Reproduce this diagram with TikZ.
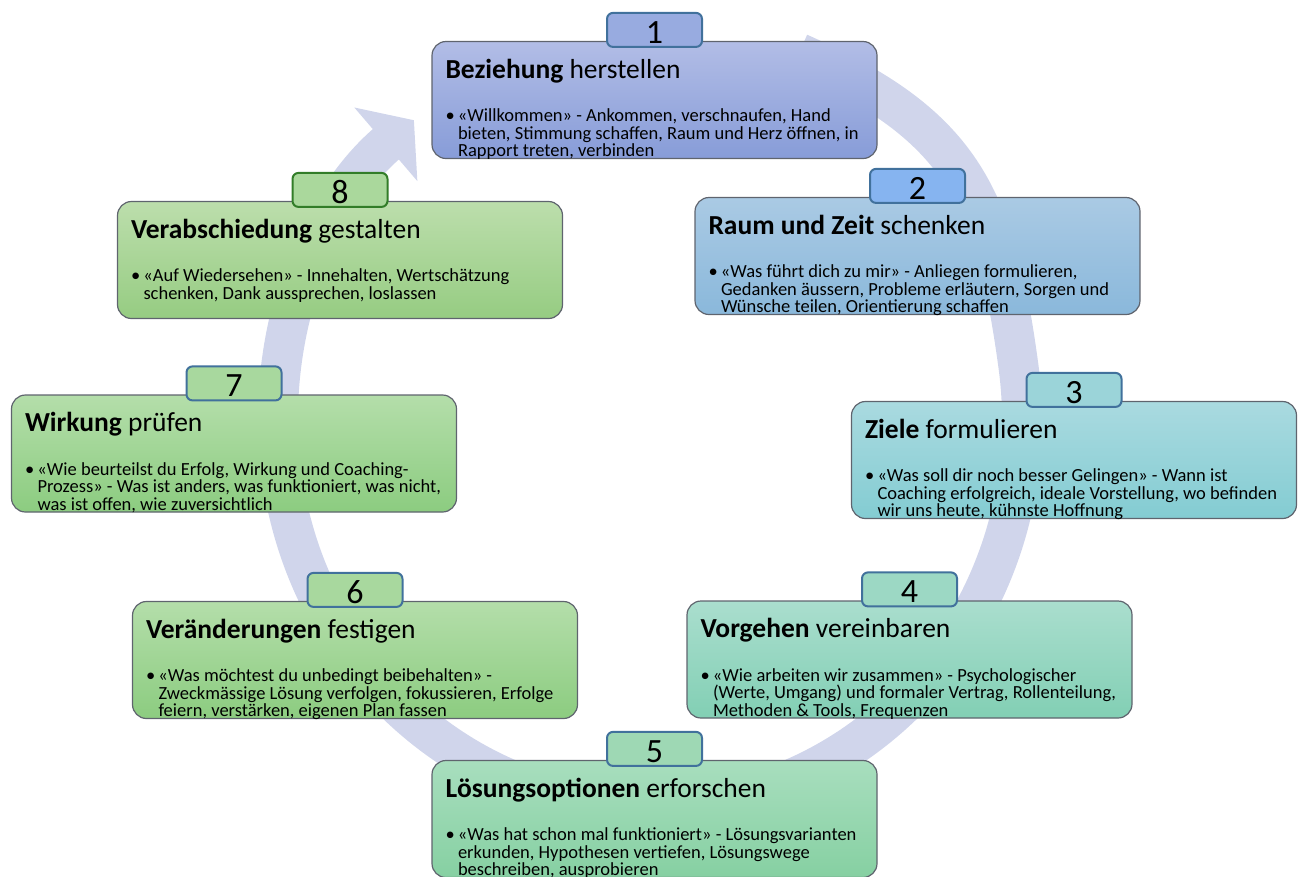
\documentclass[tikz,border=0pt]{standalone}
\usepackage{fontspec}
\setmainfont{Carlito}
\usepackage{xcolor}
\usepackage{tikz}
\usetikzlibrary{arrows.meta,positioning}
\definecolor{ringlav}{RGB}{208,213,235}
\definecolor{tabblue}{RGB}{65,113,156}
\definecolor{tabgreen}{RGB}{50,125,40}
\definecolor{boxline}{RGB}{95,100,110}
\definecolor{bezTop}{RGB}{178,189,230}
\definecolor{bezBot}{RGB}{135,156,216}
\definecolor{bezTab}{RGB}{152,171,224}
\definecolor{raumTop}{RGB}{170,202,228}
\definecolor{raumBot}{RGB}{138,184,219}
\definecolor{raumTab}{RGB}{134,180,240}
\definecolor{zielTop}{RGB}{170,218,224}
\definecolor{zielBot}{RGB}{131,204,210}
\definecolor{zielTab}{RGB}{155,212,217}
\definecolor{vorTop}{RGB}{170,222,206}
\definecolor{vorBot}{RGB}{130,207,180}
\definecolor{vorTab}{RGB}{156,216,196}
\definecolor{loesTop}{RGB}{168,222,190}
\definecolor{loesBot}{RGB}{134,208,162}
\definecolor{loesTab}{RGB}{158,216,180}
\definecolor{verTop}{RGB}{180,222,170}
\definecolor{verBot}{RGB}{140,204,128}
\definecolor{verTab}{RGB}{168,216,158}
\definecolor{abTop}{RGB}{188,222,172}
\definecolor{abBot}{RGB}{150,204,130}
\definecolor{abTab}{RGB}{170,216,156}

% title line and bullet text of one phase
\newcommand{\phasetext}[3]{%
  \parbox[c][117pt][t]{445pt}{\leftskip=13.5pt
    \fontsize{27.5}{43.5}\selectfont\rule{0pt}{36.6pt}\textbf{#1} #2\par
    \fontsize{18.5}{43.5}\selectfont\makebox[12.5pt][l]{\textbullet}%
    \parbox[t]{419pt}{\raggedright\fontsize{18.5}{17.6}\selectfont #3}\par}}

\begin{document}
\begin{tikzpicture}[
    x=1pt, y=1pt,
    phase/.style 2 args={rectangle, rounded corners=14pt, draw=boxline,
                line width=1.2pt, top color=#1, bottom color=#2,
                minimum width=445pt, minimum height=117pt, inner sep=0pt},
    tab/.style 2 args={rectangle, rounded corners=6pt, draw=#2, line width=2pt,
                fill=#1, minimum width=95pt, minimum height=34pt, inner sep=0pt,
                text height=26.5pt, text depth=0pt,
                font=\fontsize{34}{34}\selectfont},
    ring/.style={ringlav, line width=40pt,
                -{Triangle[length=37pt, width=95pt]}},
]
    \useasboundingbox (0,0) rectangle (1300,-876);

    % Cycle arrow behind the phases
    \coordinate (hub) at (650,-420);
    \coordinate (tail) at (799,-53);
    \coordinate (rim) at (1018.4,-366);
    \draw[ring] (tail) .. controls (959,-123.9) and (995,-192.6) .. (rim)
        arc[start angle=8, end angle=-230.6, x radius=372pt, y radius=388pt];

    % Phases
    \node[phase={bezTop}{bezBot}] (b1) at (654.5,-100)
        {\phasetext{Beziehung}{herstellen}{«Willkommen» - Ankommen, verschnaufen, Hand\\bieten, Stimmung schaffen, Raum und Herz öffnen, in\\Rapport treten, verbinden}};
    \node[phase={raumTop}{raumBot}] (b2) at (917.5,-256)
        {\phasetext{Raum und Zeit}{schenken}{«Was führt dich zu mir» - Anliegen formulieren,\\Gedanken äussern, Probleme erläutern, Sorgen und\\Wünsche teilen, Orientierung schaffen}};
    \node[phase={zielTop}{zielBot}] (b3) at (1074,-460)
        {\phasetext{Ziele}{formulieren}{«Was soll dir noch besser Gelingen» - Wann ist\\Coaching erfolgreich, ideale Vorstellung, wo befinden\\wir uns heute, kühnste Hoffnung}};
    \node[phase={vorTop}{vorBot}] (b4) at (909.5,-659.5)
        {\phasetext{Vorgehen}{vereinbaren}{«Wie arbeiten wir zusammen» - Psychologischer\\(Werte, Umgang) und formaler Vertrag, Rollenteilung,\\Methoden \& Tools, Frequenzen}};
    \node[phase={loesTop}{loesBot}] (b5) at (654.5,-819)
        {\phasetext{Lösungsoptionen}{erforschen}{«Was hat schon mal funktioniert» - Lösungsvarianten\\erkunden, Hypothesen vertiefen, Lösungswege\\beschreiben, ausprobieren}};
    \node[phase={verTop}{verBot}] (b6) at (355,-660)
        {\phasetext{Veränderungen}{festigen}{«Was möchtest du unbedingt beibehalten» -\\Zweckmässige Lösung verfolgen, fokussieren, Erfolge\\feiern, verstärken, eigenen Plan fassen}};
    \node[phase={verTop}{verBot}] (b7) at (234,-453.5)
        {\phasetext{Wirkung}{prüfen}{«Wie beurteilst du Erfolg, Wirkung und Coaching-\\Prozess» - Was ist anders, was funktioniert, was nicht,\\was ist offen, wie zuversichtlich}};
    \node[phase={abTop}{abBot}] (b8) at (340,-260)
        {\phasetext{Verabschiedung}{gestalten}{«Auf Wiedersehen» - Innehalten, Wertschätzung\\schenken, Dank aussprechen, loslassen}};

    % Number tabs
    \node[tab={bezTab}{tabblue}, above=-7pt of b1] (t1) {1};
    \node[tab={raumTab}{tabblue}, above=-7pt of b2] (t2) {2};
    \node[tab={zielTab}{tabblue}, above=-7pt of b3] (t3) {3};
    \node[tab={vorTab}{tabblue}, above=-7pt of b4] (t4) {4};
    \node[tab={loesTab}{tabblue}, above=-7pt of b5] (t5) {5};
    \node[tab={verTab}{tabblue}, above=-7pt of b6] (t6) {6};
    \node[tab={verTab}{tabblue}, above=-7pt of b7] (t7) {7};
    \node[tab={abTab}{tabgreen}, above=-7pt of b8] (t8) {8};
\end{tikzpicture}
\end{document}
